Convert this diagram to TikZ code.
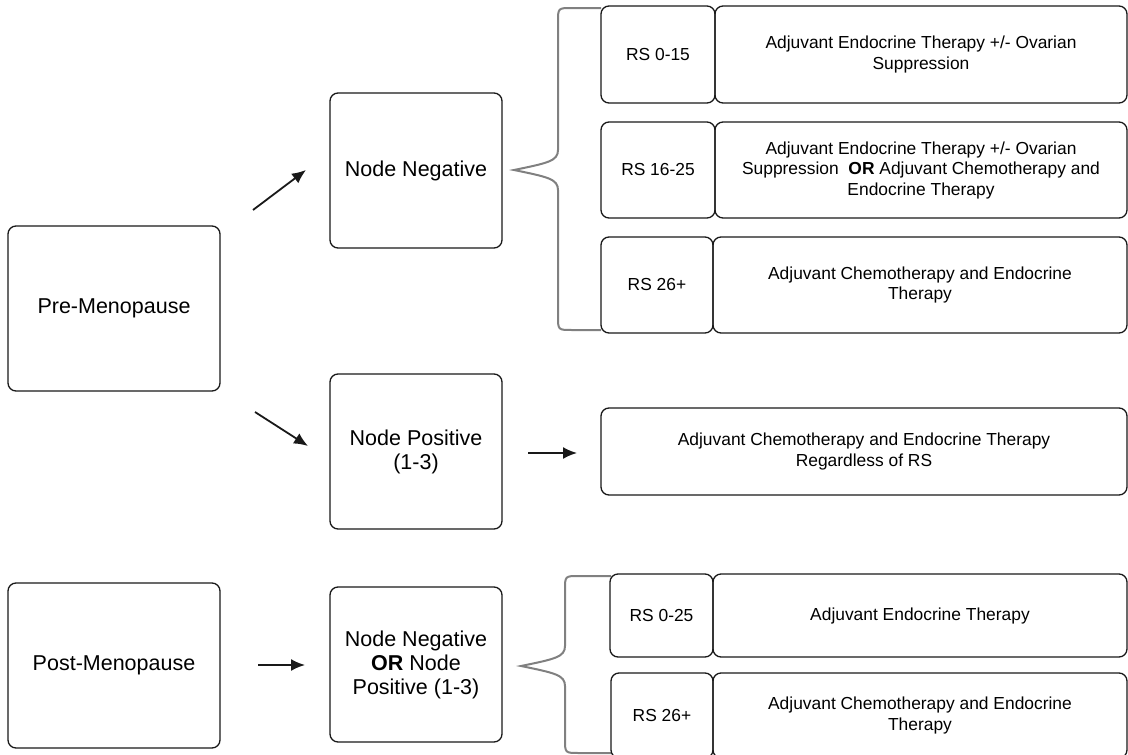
\documentclass[tikz,border=0pt]{standalone}
\usepackage{fontspec}
\setmainfont{Liberation Sans}
\usetikzlibrary{arrows.meta}
\begin{document}
\begin{tikzpicture}[x=1pt,y=-1pt,
  box/.style={draw=black!90, line width=1.3pt, rounded corners=8pt, align=center, inner sep=0pt},
  big/.style={font=\fontsize{21.5}{24}\selectfont},
  small/.style={font=\fontsize{17.4}{20.5}\selectfont},
  arr/.style={line width=1.8pt, black!90, -{Latex[length=14pt,width=12pt]}},
  bracestyle/.style={draw=black!50, line width=2pt}]
\useasboundingbox (0,0) rectangle (1128,755);

% braces
\draw[bracestyle] (601,8) -- (572,8) .. controls (558,8) .. (558,22) -- (558,150)
  .. controls (558,161) and (548,163) .. (514,170)
  .. controls (548,177) and (558,179) .. (558,190) -- (558,316)
  .. controls (558,330) .. (572,330) -- (601,330);
\draw[bracestyle] (611,576) -- (579,576) .. controls (565,576) .. (565,590) -- (565,646)
  .. controls (565,657) and (555,659) .. (521,666)
  .. controls (555,673) and (565,675) .. (565,686) -- (565,739)
  .. controls (565,753) .. (579,753) -- (611,753);

% left column
\node[box,big,minimum width=212pt,minimum height=165pt] (pre) at (114,308.5) {Pre-Menopause};
\node[box,big,minimum width=212pt,minimum height=165pt] (post) at (114,665.5) {Post-Menopause};

% middle column
\node[box,big,minimum width=172pt,minimum height=155pt] (nneg) at (416,170.5) {Node Negative};
\node[box,big,minimum width=172pt,minimum height=155pt] (npos) at (416,451.5) {Node Positive\\(1-3)};
\node[box,big,minimum width=172pt,minimum height=155pt] (nboth) at (416,664.5) {Node Negative\\\textbf{OR} Node\\Positive (1-3)};

% top group
\node[box,small,minimum width=114pt,minimum height=97pt] (rs1) at (658,54.5) {RS 0-15};
\node[box,small,minimum width=412pt,minimum height=97pt] (t1) at (921,54.5) {Adjuvant Endocrine Therapy +/- Ovarian\\Suppression};
\node[box,small,minimum width=114pt,minimum height=96pt] (rs2) at (658,170) {RS 16-25};
\node[box,small,minimum width=412pt,minimum height=96pt] (t2) at (921,170) {Adjuvant Endocrine Therapy +/- Ovarian\\Suppression\ \ \textbf{OR} Adjuvant Chemotherapy and\\Endocrine Therapy};
\node[box,small,minimum width=112pt,minimum height=96pt] (rs3) at (657,285) {RS 26+};
\node[box,small,minimum width=414pt,minimum height=96pt] (t3) at (920,285) {Adjuvant Chemotherapy and Endocrine\\Therapy};

% regardless
\node[box,small,minimum width=526pt,minimum height=87pt] (reg) at (864,451.5) {Adjuvant Chemotherapy and Endocrine Therapy\\Regardless of RS};

% bottom group
\node[box,small,minimum width=103pt,minimum height=83pt] (rs4) at (661.5,615.5) {RS 0-25};
\node[box,small,minimum width=414pt,minimum height=83pt] (t4) at (920,615.5) {Adjuvant Endocrine Therapy};
\node[box,small,minimum width=102pt,minimum height=85pt] (rs5) at (662,715.5) {RS 26+};
\node[box,small,minimum width=414pt,minimum height=85pt] (t5) at (920,715.5) {Adjuvant Chemotherapy and Endocrine\\Therapy};

% arrows
\coordinate (a1s) at (253,210); \coordinate (a1e) at (306,170);
\coordinate (a2s) at (255,412); \coordinate (a2e) at (308,446);
\coordinate (a3s) at (258,665); \coordinate (a3e) at (305,665);
\coordinate (a4s) at (528,453); \coordinate (a4e) at (577,453);
\draw[arr] (a1s) -- (a1e);
\draw[arr] (a2s) -- (a2e);
\draw[arr] (a3s) -- (a3e);
\draw[arr] (a4s) -- (a4e);
\end{tikzpicture}
\end{document}
